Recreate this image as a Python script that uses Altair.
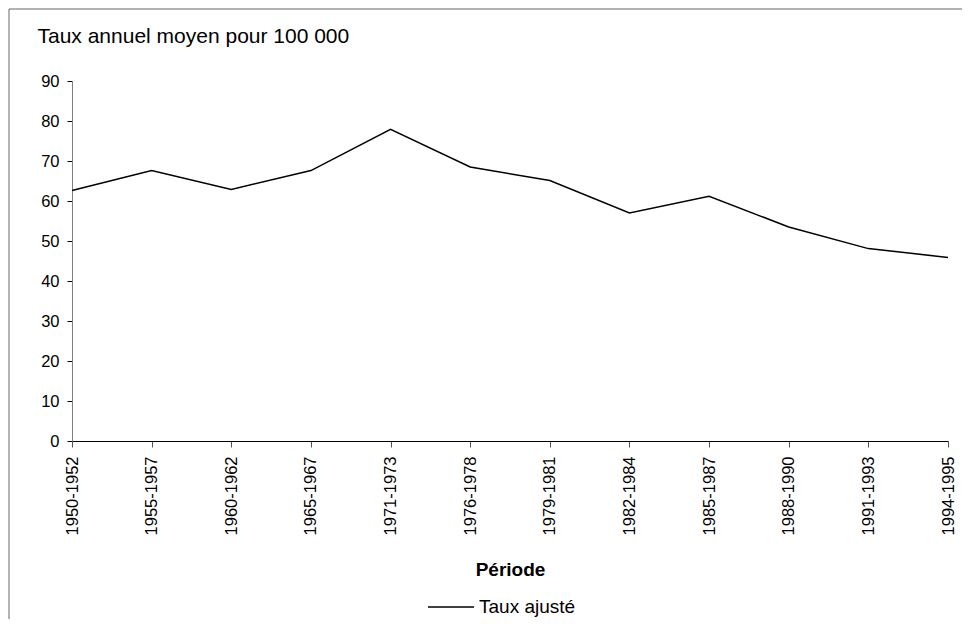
import altair as alt
import pandas as pd

periodes = ["1950-1952", "1955-1957", "1960-1962", "1965-1967", "1971-1973", "1976-1978",
            "1979-1981", "1982-1984", "1985-1987", "1988-1990", "1991-1993", "1994-1995"]
taux = [62.6, 67.6, 62.9, 67.6, 77.9, 68.5, 65.1, 57.0, 61.2, 53.5, 48.1, 45.9]
serie = "Taux ajusté"
y_ticks = [0, 10, 20, 30, 40, 50, 60, 70, 80, 90]

df = pd.DataFrame({"Période": periodes, "Taux": taux, "Série": [serie] * len(periodes)})

FONT = "Liberation Sans"

frame = alt.Chart(pd.DataFrame({"k": [0]})).mark_rect(
    fillOpacity=0, stroke="#666666", strokeWidth=1
).encode(x=alt.value(-63), y=alt.value(-72), x2=alt.value(1000), y2=alt.value(700))

line = alt.Chart(df).mark_line(strokeWidth=1.5).encode(
    x=alt.X("Période:N", sort=periodes,
            scale=alt.Scale(type="point", padding=0),
            axis=alt.Axis(title="Période", labelAngle=-90, labelFontSize=16.5,
                          labelPadding=9, tickSize=6, tickColor="#555555",
                          domainColor="black", titleFontSize=19, titleFontWeight="bold",
                          titleY=134, titleBaseline="alphabetic")),
    y=alt.Y("Taux:Q", scale=alt.Scale(domain=[0, 90], nice=False),
            axis=alt.Axis(values=y_ticks, title="Taux annuel moyen pour 100 000",
                          titleAngle=0, titleAlign="left", titleX=-35, titleY=-39,
                          titleBaseline="alphabetic", titleFontSize=21, titleFontWeight="normal",
                          grid=False, labelFontSize=16.5, tickSize=5, labelPadding=8,
                          domainColor="#808080", tickColor="black")),
    color=alt.Color("Série:N", scale=alt.Scale(range=["black"]),
                    legend=alt.Legend(title=None, orient="none", legendX=355, legendY=502,
                                      symbolType="stroke", symbolSize=2116,
                                      symbolStrokeWidth=1.5, labelFontSize=19,
                                      labelOffset=4, padding=0)),
)

chart = alt.layer(frame, line).properties(
    width=876, height=360,
    padding={"left": 64, "top": 73, "right": 14, "bottom": 178},
    autosize="none",
).configure_view(stroke=None).configure_axis(
    labelFont=FONT, titleFont=FONT, labelColor="black", titleColor="black"
).configure_legend(labelFont=FONT, labelColor="black")

chart.save("out.html", embed_options={"renderer": "svg", "actions": False})
